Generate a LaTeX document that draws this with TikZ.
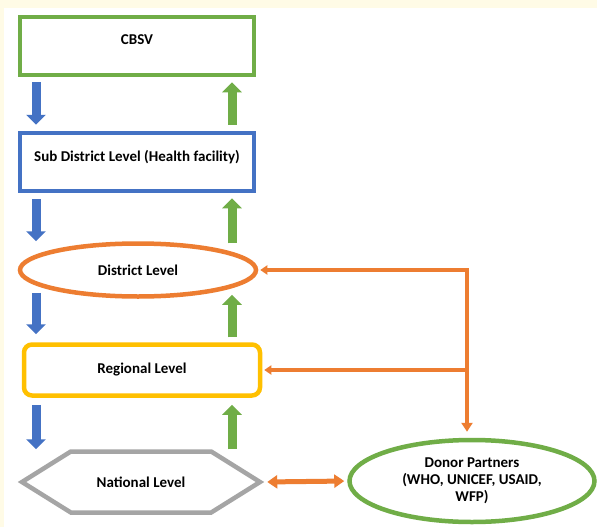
\documentclass[tikz,border=0pt]{standalone}
\usepackage{fontspec}
\setmainfont{Carlito}
\usetikzlibrary{arrows.meta,shapes.geometric,shapes.symbols,positioning}
\definecolor{cream}{HTML}{FFFBE6}
\definecolor{lvlgreen}{HTML}{70AD47}
\definecolor{lvlblue}{HTML}{4472C4}
\definecolor{lvlorange}{HTML}{ED7D31}
\definecolor{lvlyellow}{HTML}{FFC000}
\definecolor{lvlgray}{HTML}{A5A5A5}
\tikzset{
  level/.style={draw, line width=4.5pt, fill=white, align=center,
    font=\bfseries\fontsize{15}{17}\selectfont},
  report/.style={line width=9pt, draw=lvlblue, -{Triangle[width=19pt,length=10pt]}},
  feedback/.style={line width=9pt, draw=lvlgreen, -{Triangle[width=19pt,length=10pt]}},
  support/.style={line width=3.5pt, draw=lvlorange, -{Triangle[width=9pt,length=7pt]}},
}
\begin{document}
\begin{tikzpicture}[x=1pt, y=-1pt]
    % page with cream edge
    \fill[cream] (0,0) rectangle (597,527);
    \fill[white] (4,8) rectangle (597,527);
    % levels
    \node[level, draw=lvlgreen, minimum width=234pt, minimum height=58pt, text depth=12pt] (cbsv) at (137,46) {CBSV};
    \node[level, draw=lvlblue, minimum width=234pt, minimum height=58pt, text depth=13pt] (sub) at (137,162) {Sub District Level (Health facility)};
    \node[level, draw=lvlorange, ellipse, minimum width=236pt, minimum height=53pt] (dist) at (138,270) {District Level};
    \node[level, draw=lvlyellow, rounded corners=8pt, minimum width=236pt, minimum height=51pt] (reg) at (142,370) {Regional Level};
    \node[level, draw=lvlgray, signal, signal to=west and east, signal pointer angle=64,
      minimum width=238pt, minimum height=61pt] (nat) at (141,482) {National Level};
    \node[level, draw=lvlgreen, ellipse, minimum width=245pt, minimum height=82pt] (donor) at (472,481) {Donor Partners\\(WHO, UNICEF, USAID,\\WFP)};
    % columns for the up and down arrows
    \coordinate (dnx) at (36,0);
    \coordinate (upx) at (232,0);
    \foreach \a/\b/\s/\e in {cbsv/sub/5/6, sub/dist/6/0, dist/reg/-6/8, reg/nat/7/0} {
        \draw[report, shorten <=\s pt, shorten >=\e pt] (\a.south -| dnx) -- (\b.north -| dnx);
    }
    \foreach \a/\b/\s/\e in {cbsv/sub/6/5, sub/dist/-2/5, dist/reg/5/-4, reg/nat/0/7} {
        \draw[feedback, shorten <=\s pt, shorten >=\e pt] (\b.north -| upx) -- (\a.south -| upx);
    }
    % donor links
    \coordinate (jn) at (467,270);
    \draw[support, shorten >=2pt] (jn) -- (dist.east);
    \draw[support, shorten >=2pt] (jn |- reg.east) -- (reg.east);
    \draw[support, line width=4pt, -{Triangle[width=11pt,length=9pt]}, shorten <=-1.8pt, shorten >=6pt] (jn) -- (jn |- donor.north);
    \draw[support, line width=5pt, {Triangle[width=13pt,length=10pt]}-{Triangle[width=13pt,length=10pt]},
      shorten <=3pt, shorten >=3pt] (nat.east) -- (donor.west);
\end{tikzpicture}
\end{document}
